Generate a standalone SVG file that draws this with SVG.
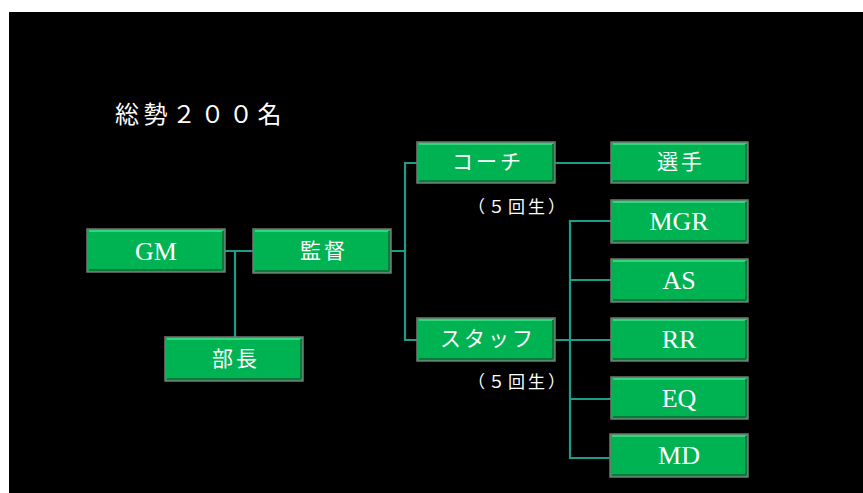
<svg xmlns="http://www.w3.org/2000/svg" width="863" height="493" viewBox="0 0 863 493">
<defs>
<style>
.box{fill:#00b352;stroke:#777;stroke-width:1.5}
.hl{fill:none;stroke:#33d57a;stroke-width:2}
.sh{fill:none;stroke:#0a7a3a;stroke-width:2}
.lbl{font-family:"Liberation Serif","Noto Sans CJK JP",serif;fill:#fff;text-anchor:middle;dominant-baseline:central}
.lat{font-size:26px}
.jp{font-size:21px;letter-spacing:3px}
.sub{font-family:"Noto Sans CJK JP",serif;fill:#fff;font-size:17px;letter-spacing:3px;dominant-baseline:central}
.con{fill:none;stroke:#1a9e88;stroke-width:2.2}
</style>
</defs>
<rect x="0" y="0" width="863" height="493" fill="#fff"/>
<rect x="9" y="12" width="854" height="481" fill="#000"/>
<text x="115" y="112" font-family="'Noto Sans CJK JP',serif" font-size="24" letter-spacing="4.5" fill="#fff" dominant-baseline="central">総勢２００名</text>
<g id="connectors">
<path class="con" d="M225 251H253M235 251V337"/>
<path class="con" d="M391 251H405M417 163H405V340H417"/>
<path class="con" d="M555 163H611"/>
<path class="con" d="M555 340H611M611 221H570V458H611M570 280H611M570 399H611"/>
</g>
<g id="GM"><rect class="box" x="87" y="229" width="138" height="43"/><path class="hl" d="M89 231H223"/><path class="sh" d="M89 270H223M223 231V270"/><text class="lbl lat" x="156" y="251">GM</text></g>
<g id="kantoku"><rect class="box" x="253" y="229" width="138" height="44"/><path class="hl" d="M255 231H389"/><path class="sh" d="M255 271H389M389 231V271"/><text class="lbl jp" x="324" y="251">監督</text></g>
<g id="bucho"><rect class="box" x="165" y="337" width="138" height="44"/><path class="hl" d="M167 339H301"/><path class="sh" d="M167 379H301M301 339V379"/><text class="lbl jp" x="236" y="359">部長</text></g>
<g id="coach"><rect class="box" x="417" y="142" width="138" height="41"/><path class="hl" d="M419 144H553"/><path class="sh" d="M419 181H553M553 144V181"/><text class="lbl jp" x="488" y="162">コーチ</text></g>
<g id="coach-note"><text class="sub" x="468" y="205">（５回生）</text></g>
<g id="senshu"><rect class="box" x="611" y="142" width="137" height="41"/><path class="hl" d="M613 144H746"/><path class="sh" d="M613 181H746M746 144V181"/><text class="lbl jp" x="681" y="162">選手</text></g>
<g id="staff"><rect class="box" x="417" y="318" width="138" height="43"/><path class="hl" d="M419 320H553"/><path class="sh" d="M419 359H553M553 320V359"/><text class="lbl jp" x="488" y="339">スタッフ</text></g>
<g id="staff-note"><text class="sub" x="468" y="380">（５回生）</text></g>
<g id="MGR"><rect class="box" x="611" y="200" width="137" height="43"/><path class="hl" d="M613 202H746"/><path class="sh" d="M613 241H746M746 202V241"/><text class="lbl lat" x="679" y="221">MGR</text></g>
<g id="AS"><rect class="box" x="611" y="259" width="137" height="43"/><path class="hl" d="M613 261H746"/><path class="sh" d="M613 300H746M746 261V300"/><text class="lbl lat" x="679" y="280">AS</text></g>
<g id="RR"><rect class="box" x="611" y="318" width="137" height="43"/><path class="hl" d="M613 320H746"/><path class="sh" d="M613 359H746M746 320V359"/><text class="lbl lat" x="679" y="339">RR</text></g>
<g id="EQ"><rect class="box" x="611" y="377" width="137" height="42"/><path class="hl" d="M613 379H746"/><path class="sh" d="M613 417H746M746 379V417"/><text class="lbl lat" x="679" y="398">EQ</text></g>
<g id="MD"><rect class="box" x="610" y="434" width="138" height="43"/><path class="hl" d="M612 436H746"/><path class="sh" d="M612 475H746M746 436V475"/><text class="lbl lat" x="679" y="455">MD</text></g>
</svg>
